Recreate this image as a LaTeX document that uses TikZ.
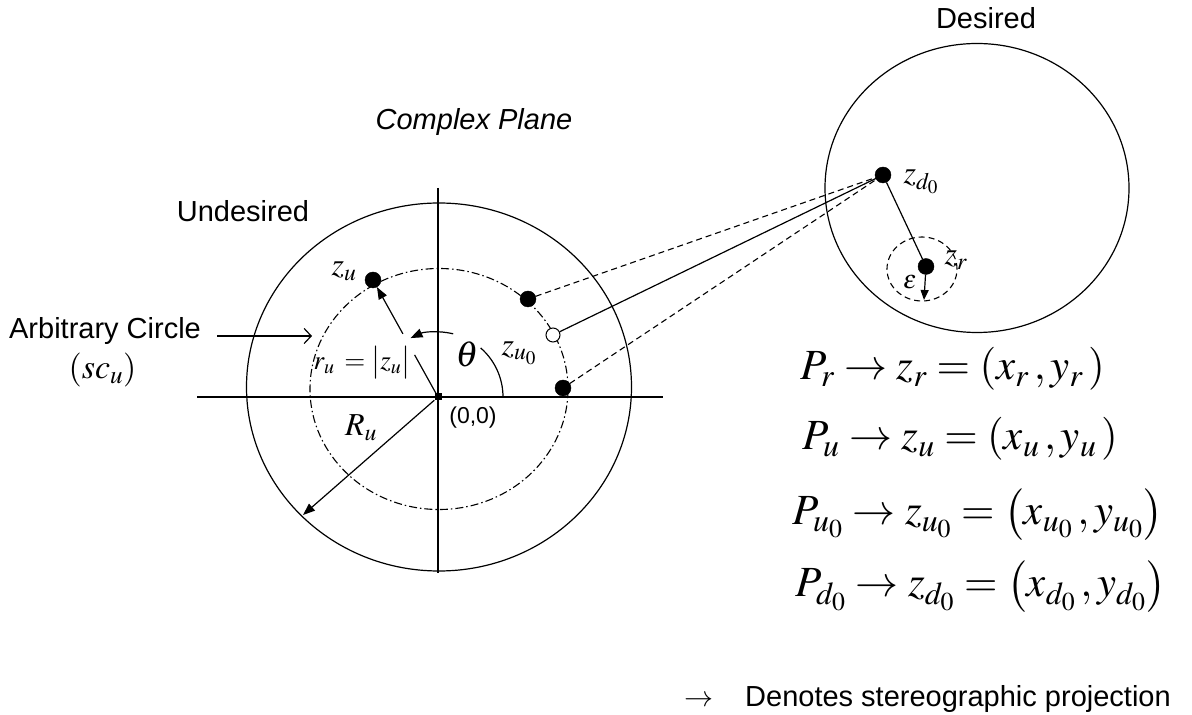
\documentclass[tikz,border=0pt]{standalone}
\usepackage{mathptmx}
\usepackage[no-math]{fontspec}
\setmainfont{Liberation Sans}
\usetikzlibrary{arrows.meta,calc}
\tikzset{
  dot/.style={circle,fill=black,draw=black,inner sep=0pt,minimum size=16pt},
  odot/.style={circle,fill=white,draw=black,line width=1pt,inner sep=0pt,minimum size=14pt},
  lbl/.style={inner sep=0pt,font=\fontsize{29}{34}\selectfont},
  mlbl/.style={inner sep=0pt,font=\fontsize{32}{36}\selectfont},
  eq/.style={inner sep=0pt,anchor=base west,font=\fontsize{43}{50}\selectfont},
  ln/.style={line width=1.2pt},
  dashdot/.style={line width=1.1pt,dash pattern=on 8pt off 3pt on 1.5pt off 3pt},
  dsh/.style={line width=1.1pt,dash pattern=on 6pt off 4pt},
  tri/.style={-{Triangle[length=12pt,width=9pt]}},
}
\begin{document}
\begin{tikzpicture}[x=1pt,y=1pt]
\useasboundingbox (0,0) rectangle (1192,715);
% left plane
\draw[ln] (439,328) ellipse [x radius=192.5, y radius=184];
\draw[dashdot] (439,326) ellipse [x radius=129, y radius=120.5];
\coordinate (vtop) at (438,527);
\coordinate (vbot) at (438,142);
\coordinate (hl) at (197,318);
\coordinate (hr) at (663,318);
\draw[ln] (vtop) -- (vbot);
\draw[ln] (hl) -- (hr);
\node[fill=black,inner sep=0pt,minimum size=7pt] (O) at (438,318) {};
\node[dot] (zu) at (373,435) {};
\node[dot] (d2) at (528,416) {};
\node[odot] (oc) at (553,380) {};
\node[dot] (d3) at (563,327) {};
\coordinate (Rtip) at (303,200);
% arrows
\draw[ln,tri] (O) -- (Rtip);
\draw[ln] (O) -- ($(O)!0.36!(zu)$);
\draw[ln,tri] ($(O)!0.54!(zu)$) -- (zu);
\draw[ln] (O) ++(0:65) arc[start angle=0,end angle=49,radius=65];
\draw[ln,tri] (O) ++(76.5:65) arc[start angle=76.5,end angle=115,radius=65];
% labels
\node[mlbl] (lzu) at (344,444) {$z_u$};
\node[inner sep=0pt,font=\fontsize{27}{32}\selectfont] (lru) at (362,352) {$r_u\:=\bigl|z_u\bigr|$};
\node[inner sep=0pt,font=\fontsize{36}{40}\selectfont] (lth) at (467,361) {$\theta$};
\node[mlbl] (lzu0) at (519,362) {$z_{u_0}$};
\node[inner sep=0pt,font=\fontsize{23}{27}\selectfont] (l00) at (473,297) {(0,0)};
\node[mlbl] (lRu) at (361,287) {$R_u$};
\node[lbl] (arb) at (105,384) {Arbitrary Circle};
\node[inner sep=0pt,font=\fontsize{34}{38}\selectfont] (scu) at (102.5,345) {$\left(sc_u\right)$};
\coordinate (aS) at (217,379);
\coordinate (aE) at (312,379);
\draw[ln,-{Straight Barb[length=7pt,width=15pt]}] (aS) -- (aE);
\node[lbl] (und) at (243,504) {Undesired};
\node[lbl,font=\fontsize{29}{34}\selectfont\itshape] (cp) at (474,593) {Complex Plane};
% right circle
\draw[ln] (977,527) ellipse [x radius=152, y radius=144.5];
\node[lbl] (des) at (986,697) {Desired};
\draw[dsh] (922,446) ellipse [x radius=35, y radius=32];
\node[dot] (zd0) at (883,540) {};
\node[dot] (zr) at (926,448.5) {};
\coordinate (etip) at (924,415);
\draw[ln] (zd0) -- (zr);
\draw[ln,-{Triangle[length=10pt,width=8pt]}] (zr) -- (etip);
\node[mlbl] (lzd0) at (921,533) {$z_{d_0}$};
\node[mlbl] (lzr) at (956,455) {$z_r$};
\node[inner sep=0pt,font=\fontsize{26}{30}\selectfont] (leps) at (910,433) {$\varepsilon$};
% projections
\draw[dsh] (d2) -- (zd0.center);
\draw[ln] (oc) -- (zd0.center);
\draw[dsh] (d3) -- (zd0.center);
% equations
\node[eq] (e1) at (800,335) {$P_r \rightarrow z_r = (x_r\,, y_r\,)$};
\node[eq] (e2) at (802,265) {$P_u \rightarrow z_u = (x_u\,, y_u\,)$};
\node[eq] (e3) at (792,190) {$P_{u_0} \rightarrow z_{u_0} = \bigl(x_{u_0}\,, y_{u_0}\bigr)$};
\node[eq] (e4) at (795,118) {$P_{d_0} \rightarrow z_{d_0} = \bigl(x_{d_0}\,, y_{d_0}\bigr)$};
% legend
\node[inner sep=0pt,anchor=base,font=\fontsize{29}{34}\selectfont] (larr) at (699,8) {$\rightarrow$};
\node[lbl,anchor=base west] (den) at (745,8) {Denotes stereographic projection};
\end{tikzpicture}
\end{document}
